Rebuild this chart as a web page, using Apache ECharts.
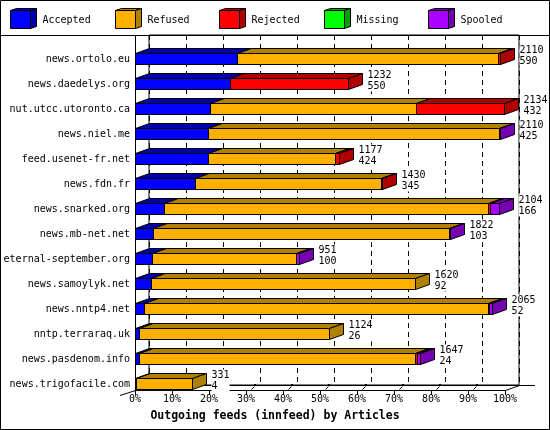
<!DOCTYPE html>
<html><head><meta charset="utf-8">
<script src="https://cdn.jsdelivr.net/npm/echarts@6/dist/echarts.min.js"></script>
<style>html,body{margin:0;padding:0;background:#fff}#c{width:550px;height:430px}</style>
</head><body><div id="c"></div>
<script>
const categories = ['news.ortolo.eu','news.daedelys.org','nut.utcc.utoronto.ca','news.niel.me','feed.usenet-fr.net','news.fdn.fr','news.snarked.org','news.mb-net.net','eternal-september.org','news.samoylyk.net','news.nntp4.net','nntp.terraraq.uk','news.pasdenom.info','news.trigofacile.com'];
const totals   = [2110,1232,2134,2110,1177,1430,2104,1822,951,1620,2065,1124,1647,331];
const accepted = [590,550,432,425,424,345,166,103,100,92,52,26,24,4];
const refused  = [1512,0,1195,1678,730,1080,1873,1715,830,1528,1988,1098,1597,327];
const rejected = [8,682,507,0,23,5,17,0,0,0,8,0,12,0];
const missing  = [0,0,0,0,0,0,0,0,0,0,0,0,0,0];
const spooled  = [0,0,0,7,0,0,48,4,21,0,17,0,14,0];
const legendNames = ['Accepted','Refused','Rejected','Missing','Spooled'];
const axisMax = 2140;
const axisStep = 214;
const title = 'Outgoing feeds (innfeed) by Articles';

const FRONT = ['#0000ff','#ffb000','#ff0000','#00ff00','#aa00ff'];
const DARK  = ['#0000a8','#b08000','#b00000','#00a000','#7700b3'];
const segs = [accepted, refused, rejected, missing, spooled];
const MONO = '"DejaVu Sans Mono", "Liberation Mono", monospace';
const DX = 14, DY = 5;
const GL = 135, GW = 370, TOP = 35, FLOOR = 390;

function px(v){ return Math.round(v) + 0.5; }

const data = categories.map((c, i) => [i, totals[i]]);

function renderItem(params, api) {
  const i = api.value(0);
  const cy = api.coord([0, i])[1];
  const top = Math.round(cy - 6) + 0.5, bot = top + 11;
  const fronts = [], tops = [];
  let cum = 0, lastK = -1, xEnd = px(api.coord([0, i])[0]);
  for (let k = 0; k < segs.length; k++) {
    const v = segs[k][i];
    if (!(v > 0)) continue;
    const x0 = px(api.coord([cum, i])[0]);
    cum += v;
    const x1 = px(api.coord([cum, i])[0]);
    fronts.push({type:'polygon', shape:{points:[[x0,top],[x1,top],[x1,bot],[x0,bot]]},
      style:{fill:FRONT[k], stroke:'#000', lineWidth:1}});
    tops.push({type:'polygon', shape:{points:[[x0,top],[x1,top],[x1+DX,top-DY],[x0+DX,top-DY]]},
      style:{fill:DARK[k], stroke:'#000', lineWidth:1}});
    lastK = k; xEnd = x1;
  }
  const children = fronts.concat(tops);
  if (lastK >= 0) {
    children.push({type:'polygon', shape:{points:[[xEnd,top],[xEnd+DX,top-DY],[xEnd+DX,bot-DY],[xEnd,bot]]},
      style:{fill:DARK[lastK], stroke:'#000', lineWidth:1}});
  }
  children.push({type:'text', x: xEnd + DX + 5, y: cy - 3.5,
    style:{text: totals[i] + '\n' + accepted[i], fill:'#000', fontFamily: MONO, fontSize: 10,
      align:'left', verticalAlign:'middle', lineHeight: 11, backgroundColor:'#fff'}});
  return {type:'group', children};
}

const graphics = [];
graphics.push({type:'rect', z:0, shape:{x:0.5,y:0.5,width:549,height:429}, style:{fill:null, stroke:'#000', lineWidth:1}});
graphics.push({type:'line', z:0, shape:{x1:0,y1:TOP+0.5,x2:550,y2:TOP+0.5}, style:{stroke:'#000', lineWidth:1}});
graphics.push({type:'line', z:0, shape:{x1:GL+0.5,y1:TOP,x2:GL+0.5,y2:FLOOR+0.5}, style:{stroke:'#000', lineWidth:1}});
graphics.push({type:'line', z:0, shape:{x1:GL+DX,y1:FLOOR-DY+0.5,x2:GL+GW+DX+16,y2:FLOOR-DY+0.5}, style:{stroke:'#000', lineWidth:1}});
graphics.push({type:'line', z:0, shape:{x1:GL+GW+0.5,y1:FLOOR+0.5,x2:GL+GW+DX+0.5,y2:FLOOR-DY+0.5}, style:{stroke:'#000', lineWidth:1}});
graphics.push({type:'line', z:0, shape:{x1:GL-15,y1:FLOOR+5.5,x2:GL+0.5,y2:FLOOR+0.5}, style:{stroke:'#000', lineWidth:1}});
// small perspective marks on the floor, one per 10% step
for (let t = 1; t <= 9; t++) {
  const x = Math.round(GL + GW * t / 10);
  graphics.push({type:'line', z:0, shape:{x1:x+5.5,y1:FLOOR-0.5,x2:x+8.5,y2:FLOOR-3.5}, style:{stroke:'#000', lineWidth:1}});
  graphics.push({type:'rect', z:0, shape:{x:x+8,y:FLOOR-DY-1,width:2,height:2}, style:{fill:'#000'}});
}
legendNames.forEach((n, k) => {
  const x0 = Math.round(10 + k * 104.5) + 0.5, y0 = 10.5;
  graphics.push({type:'polygon', shape:{points:[[x0,y0],[x0+20,y0],[x0+20,y0+18],[x0,y0+18]]}, style:{fill:FRONT[k], stroke:'#000', lineWidth:1}});
  graphics.push({type:'polygon', shape:{points:[[x0,y0],[x0+20,y0],[x0+26,y0-2],[x0+6,y0-2]]}, style:{fill:DARK[k], stroke:'#000', lineWidth:1}});
  graphics.push({type:'polygon', shape:{points:[[x0+20,y0],[x0+26,y0-2],[x0+26,y0+16],[x0+20,y0+18]]}, style:{fill:DARK[k], stroke:'#000', lineWidth:1}});
  graphics.push({type:'text', x: x0 + 32, y: 20, style:{text:n, fill:'#000', fontFamily:MONO, fontSize:10, align:'left', verticalAlign:'middle'}});
});

const chart = echarts.init(document.getElementById('c'), null, {renderer:'canvas'});
chart.setOption({
  animation: false,
  backgroundColor: '#fff',
  title: {text: title, left: 'center', top: 410, padding: 0,
    textStyle: {fontFamily: MONO, fontWeight: 'bold', fontSize: 11.5, color: '#000'}},
  grid: [
    {left: GL, width: GW, top: 46.5, height: 350, show: false},
    {left: GL + DX, width: GW, top: TOP, height: FLOOR - DY - TOP, show: true, borderColor: '#000', borderWidth: 1, backgroundColor: 'transparent'}
  ],
  xAxis: [
    {gridIndex: 0, type: 'value', min: 0, max: axisMax, interval: axisStep, offset: -6.5,
      axisLine: {show: true, lineStyle: {color: '#000', width: 1}},
      axisTick: {show: true, length: 5, lineStyle: {color: '#000'}},
      splitLine: {show: false},
      axisLabel: {margin: 4, color: '#000', fontFamily: MONO, fontSize: 10,
        formatter: v => Math.round(v / axisMax * 100) + '%'}},
    {gridIndex: 1, type: 'value', min: 0, max: axisMax, interval: axisStep,
      axisLine: {show: false}, axisTick: {show: false}, axisLabel: {show: false},
      splitLine: {show: true, lineStyle: {color: '#000', width: 1, type: [5, 4]}}}
  ],
  yAxis: [
    {gridIndex: 0, type: 'category', data: categories, inverse: true,
      axisLine: {show: false}, axisTick: {show: false}, splitLine: {show: false},
      axisLabel: {margin: 5, color: '#000', fontFamily: MONO, fontSize: 10}},
    {gridIndex: 1, type: 'value', show: false, min: 0, max: 1, splitLine: {show: false}}
  ],
  graphic: graphics,
  series: [{
    type: 'custom', xAxisIndex: 0, yAxisIndex: 0, renderItem,
    encode: {x: 1, y: 0}, data, z: 5
  }]
});
</script></body></html>
